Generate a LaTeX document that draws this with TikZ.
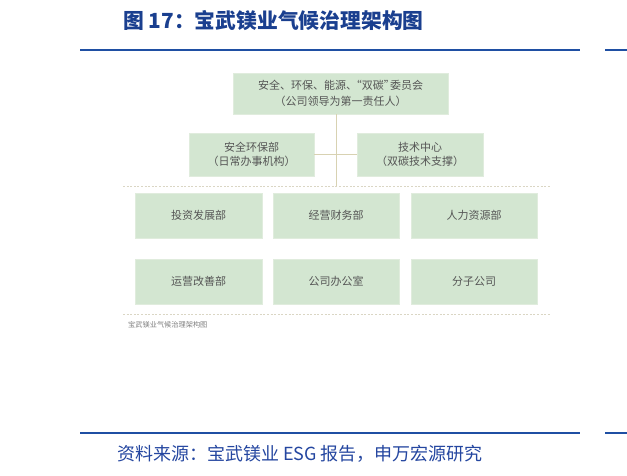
\documentclass[tikz,border=0pt]{standalone}
\usepackage{fontspec}
\setmainfont{Liberation Sans}
\newfontfamily\cjk{Noto Sans CJK SC}
\definecolor{titleblue}{HTML}{1A3F8F}
\definecolor{rulecol}{HTML}{1F4FA3}
\definecolor{srcblue}{HTML}{2446A0}
\definecolor{boxgreen}{HTML}{D3E6D1}
\definecolor{boxedge}{HTML}{E0ECDD}
\definecolor{boxtext}{HTML}{555555}
\definecolor{linkcol}{HTML}{D8D2B2}
\definecolor{dotcol}{HTML}{DAD6C4}
\begin{document}
\begin{tikzpicture}[x=1pt,y=-1pt,
  orgbox/.style={draw=boxedge,line width=0.8pt,fill=boxgreen,text=boxtext,
    font=\cjk\fontsize{11}{14}\selectfont,align=center,inner sep=0pt},
  link/.style={draw=linkcol,line width=0.8pt},
  sepline/.style={draw=dotcol,line width=0.7pt,dash pattern=on 2pt off 1.6pt},
  rulebar/.style={draw=rulecol,line width=1.8pt}]
\useasboundingbox (0,0) rectangle (627,475);
\fill[white] (0,0) rectangle (627,475);
% title
\node[anchor=west,text=titleblue,font=\cjk\bfseries\fontsize{20.8}{24}\selectfont,inner sep=0pt] (title) at (123,21) {图 17：宝武镁业气候治理架构图};
% rules
\coordinate (r1a) at (80,50); \coordinate (r1b) at (580,50);
\coordinate (r1c) at (605,50); \coordinate (r1d) at (627,50);
\coordinate (r2a) at (80,433); \coordinate (r2b) at (580,433);
\coordinate (r2c) at (605,433); \coordinate (r2d) at (627,433);
\draw[rulebar] (r1a) -- (r1b); \draw[rulebar] (r1c) -- (r1d);
\draw[rulebar] (r2a) -- (r2b); \draw[rulebar] (r2c) -- (r2d);
% source
\node[anchor=west,text=srcblue,font=\cjk\fontsize{18}{20}\selectfont,inner sep=0pt] (src) at (117,454) {资料来源：宝武镁业 ESG 报告，申万宏源研究};
% dotted separators
\coordinate (d1a) at (123,186); \coordinate (d1b) at (550,186);
\coordinate (d2a) at (123,314); \coordinate (d2b) at (550,314);
\draw[sepline] (d1a) -- (d1b);
\draw[sepline] (d2a) -- (d2b);
\coordinate (bus) at (336,186);
% boxes
\node[orgbox,minimum width=215pt,minimum height=41pt] (top) at (340.5,93.5)
  {安全、环保、能源、\kern-0.55em“双碳”\kern-0.45em委员会\\[2pt]（公司领导为第一责任人）};
\node[orgbox,minimum width=125pt,minimum height=43pt] (safety) at (251.5,154.5)
  {安全环保部\\（日常办事机构）};
\node[orgbox,minimum width=126pt,minimum height=43pt] (tech) at (420,154.5)
  {技术中心\\（双碳技术支撑）};
\node[orgbox,minimum width=127pt,minimum height=45pt] (inv) at (198.5,215.5) {投资发展部};
\node[orgbox,minimum width=126pt,minimum height=45pt] (fin) at (336,215.5) {经营财务部};
\node[orgbox,minimum width=126pt,minimum height=45pt] (hr) at (474,215.5) {人力资源部};
\node[orgbox,minimum width=127pt,minimum height=45pt] (ops) at (198.5,281.5) {运营改善部};
\node[orgbox,minimum width=126pt,minimum height=45pt] (off) at (336,281.5) {公司办公室};
\node[orgbox,minimum width=126pt,minimum height=45pt] (sub) at (474,281.5) {分子公司};
% connectors
\draw[link] (top.south -| bus) -- (bus);
\draw[link] (safety.east) -- (tech.west);
% caption
\node[anchor=west,text=gray,font=\cjk\fontsize{7.2}{8}\selectfont,inner sep=0pt] (cap) at (128,325) {宝武镁业气候治理架构图};
\end{tikzpicture}
\end{document}
